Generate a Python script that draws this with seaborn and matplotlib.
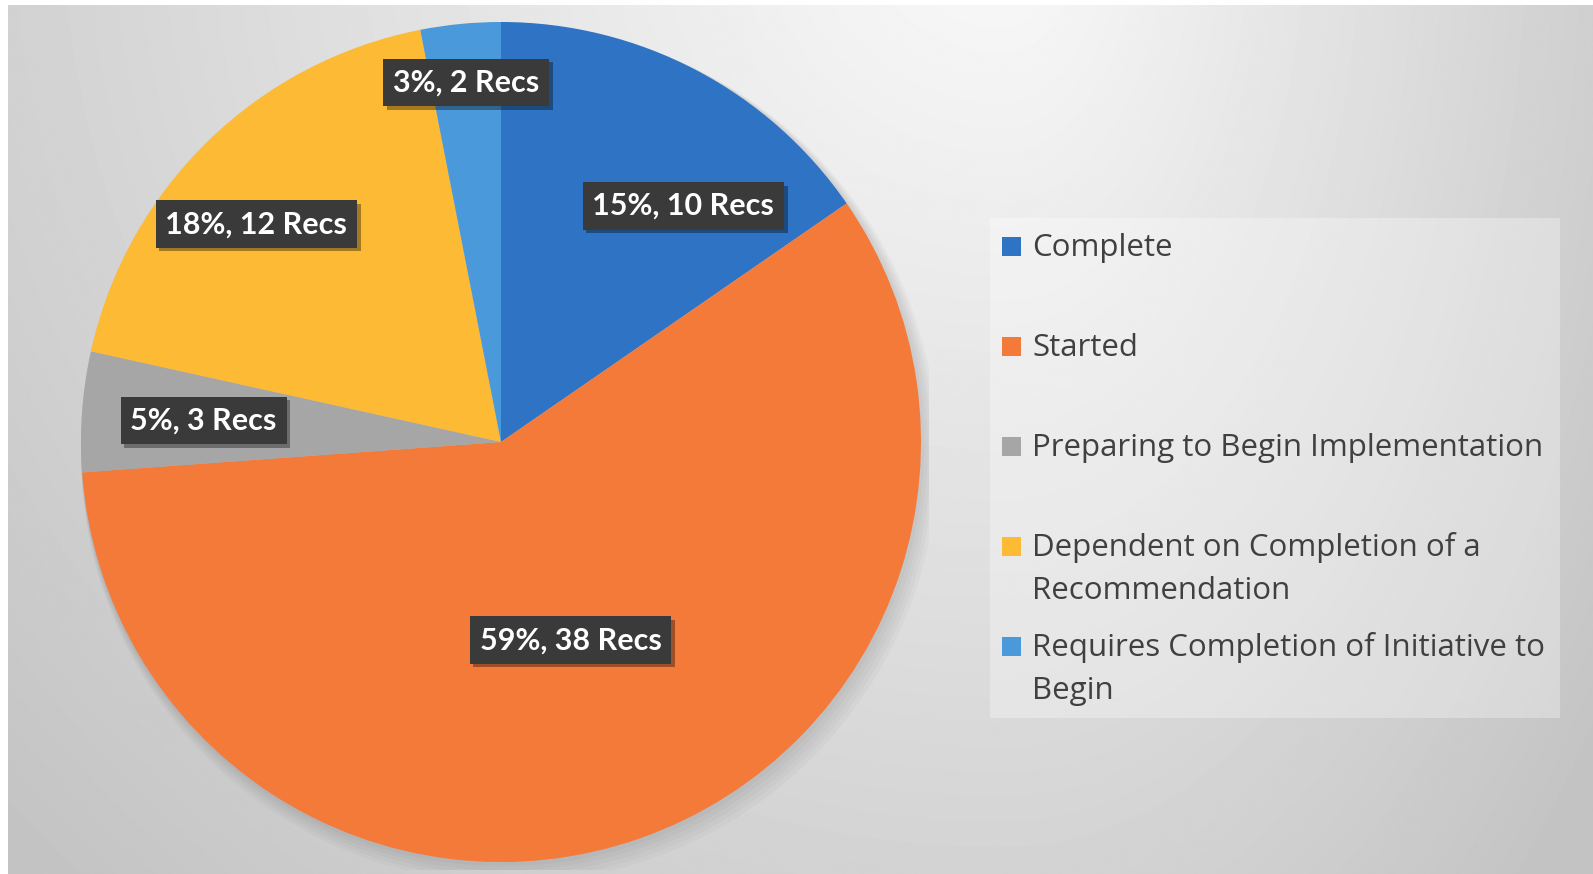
import numpy as np
import matplotlib
matplotlib.use('Agg')
import matplotlib.pyplot as plt
import matplotlib.patheffects as pe
from matplotlib.patches import Rectangle, Circle
import seaborn as sns

# data
categories = ['Complete',
              'Started',
              'Preparing to Begin Implementation',
              'Dependent on Completion of a\nRecommendation',
              'Requires Completion of Initiative to\nBegin']
recs = [10, 38, 3, 12, 2]
pct_labels = ['15%', '59%', '5%', '18%', '3%']
colors = ['#2E73C4', '#F47A3A', '#A6A6A6', '#FDBA35', '#4A9ADB']

# where the data labels sit (fraction of radius, angle shift from wedge middle)
label_r = [0.71, 0.50, 0.71, 0.78, 0.86]
label_dtheta = [-10, 0, 0, 4, 0]

sns.set_theme(style='white')
plt.rcParams['font.family'] = ['Lato', 'DejaVu Sans']

W, H = 1593, 874
fig = plt.figure(figsize=(W / 100, H / 100), dpi=100, facecolor='white')

# soft grey background, light near the top
bg = fig.add_axes([8 / W, 0, 1 - 8 / W, 1 - 5 / H])
yy, xx = np.mgrid[0:H, 0:W]
dx = xx - 1000.0
dx = np.where(dx > 0, dx * 1.8, dx)
dist = np.hypot(dx, yy + 100.0)
shade = np.clip(250 - 0.04 * dist, 195, 250) / 255
bg.imshow(shade, cmap='gray', vmin=0, vmax=1, aspect='auto', interpolation='bilinear')
bg.axis('off')

# pie
cx, cy, r = 501, 442, 420
lim = 1.02
ax = fig.add_axes([(cx - r * lim) / W, (H - cy - r * lim) / H, 2 * r * lim / W, 2 * r * lim / H])
for k in range(6):
    ax.add_patch(Circle((0.004 * k, -0.006 * k), 1.0 + 0.004 * k, fc='black',
                        alpha=0.025, ec='none', zorder=0))
wedges, _ = ax.pie(recs, colors=colors, startangle=90, counterclock=False,
                   radius=1, wedgeprops=dict(linewidth=0))
ax.set_xlim(-lim, lim)
ax.set_ylim(-lim, lim)
ax.axis('off')

for i, w in enumerate(wedges):
    theta = np.deg2rad((w.theta1 + w.theta2) / 2 + label_dtheta[i])
    x, y = label_r[i] * np.cos(theta), label_r[i] * np.sin(theta)
    t = ax.text(x, y, f'{pct_labels[i]}, {recs[i]} Recs', ha='center', va='center',
                color='white', fontsize=22, fontweight='bold',
                bbox=dict(boxstyle='square,pad=0.32', fc='#3a3a3a', ec='none'))
    t.get_bbox_patch().set_path_effects([
        pe.SimplePatchShadow(offset=(2.5, -2.5), shadow_rgbFace='black', alpha=0.35),
        pe.Normal()])

# legend, laid out like the Excel one
lax = fig.add_axes([0, 0, 1, 1])
lax.set_xlim(0, W)
lax.set_ylim(H, 0)
lax.axis('off')
lax.add_patch(Rectangle((990, 218), 570, 500, fc='white', alpha=0.3, ec='none'))
for i, (lab, col) in enumerate(zip(categories, colors)):
    base = 256 + i * 100
    lax.add_patch(Rectangle((1002, base - 19), 19, 19, fc=col, ec='none'))
    for j, line in enumerate(lab.split('\n')):
        lax.text(1032, base + j * 43, line, fontsize=22.5, color='#404040',
                 va='baseline', ha='left', family=['Open Sans', 'DejaVu Sans'])

fig.savefig('out.png', dpi=100)
